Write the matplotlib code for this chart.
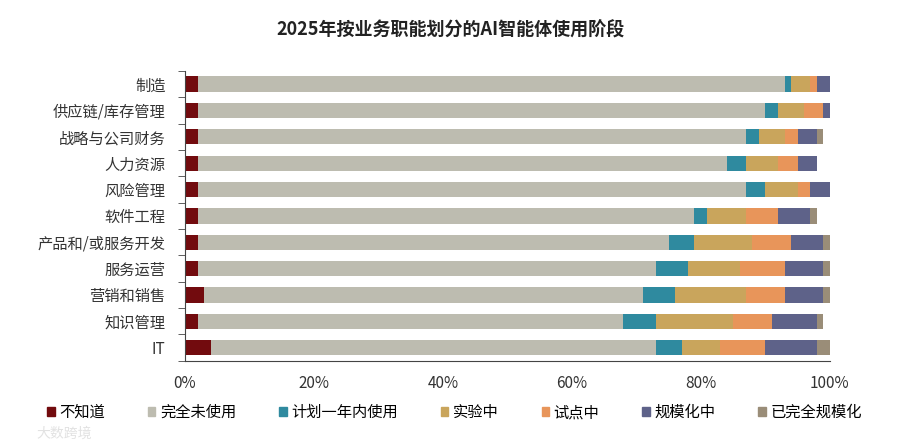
import matplotlib
matplotlib.use('Agg')
import matplotlib.pyplot as plt
import numpy as np
from matplotlib.patches import Rectangle

plt.rcParams['font.family'] = ['Noto Sans CJK SC', 'DejaVu Sans']

# categories from top to bottom
functions = ['制造', '供应链/库存管理', '战略与公司财务', '人力资源', '风险管理', '软件工程',
             '产品和/或服务开发', '服务运营', '营销和销售', '知识管理', 'IT']

stages = ['不知道', '完全未使用', '计划一年内使用', '实验中', '试点中', '规模化中', '已完全规模化']

# percent values per stage, same order as functions
dont_know  = [2, 2, 2, 2, 2, 2, 2, 2, 3, 2, 4]
not_used   = [91, 88, 85, 82, 85, 77, 73, 71, 68, 66, 69]
plan_1y    = [1, 2, 2, 3, 3, 2, 4, 5, 5, 5, 4]
experiment = [3, 4, 4, 5, 5, 6, 9, 8, 11, 12, 6]
pilot      = [1, 3, 2, 3, 2, 5, 6, 7, 6, 6, 7]
scaling    = [2, 1, 3, 3, 3, 5, 5, 6, 6, 7, 8]
full_scale = [0, 0, 1, 0, 0, 1, 1, 1, 1, 1, 2]

colors = ['#720b0e', '#bdbcb0', '#2f8a9f', '#c9a55c', '#e8955a', '#5e6289', '#9a8d78']

series = [dont_know, not_used, plan_1y, experiment, pilot, scaling, full_scale]

fig = plt.figure(figsize=(9, 4.46), dpi=100)
ax = fig.add_axes([0.2056, 0.191, 0.7164, 0.65])

y = np.arange(len(functions))
left = np.zeros(len(functions))
for vals, col in zip(series, colors):
    ax.barh(y, vals, left=left, height=0.58, color=col, edgecolor='none')
    left += np.array(vals)

ax.set_ylim(len(functions) - 0.5, -0.5)
ax.set_xlim(0, 100)
ax.set_yticks(y)
ax.set_yticklabels(functions, fontsize=11, color='#333333')
ax.set_yticks(np.arange(-0.5, len(functions)), minor=True)
ax.tick_params(axis='y', which='major', length=0, pad=14)
ax.tick_params(axis='y', which='minor', length=5, color='#444444')
ax.set_xticks([0, 20, 40, 60, 80, 100])
ax.set_xticklabels(['0%', '20%', '40%', '60%', '80%', '100%'], fontsize=11, color='#333333')
ax.tick_params(axis='x', length=0, pad=10)

for s in ['top', 'right']:
    ax.spines[s].set_visible(False)
ax.spines['left'].set_color('#444444')
ax.spines['bottom'].set_color('#444444')

fig.suptitle('2025年按业务职能划分的AI智能体使用阶段', y=0.955, fontsize=13,
             fontweight='bold', color='#222222')

handles = [Rectangle((0, 0), 1, 1, color=c) for c in colors]
fig.legend(handles, stages, loc='center', bbox_to_anchor=(0.505, 0.075), ncol=7,
           frameon=False, fontsize=11, handlelength=0.5, handleheight=0.5,
           handletextpad=0.3, columnspacing=2.8)

fig.text(0.04, 0.012, '大数跨境', fontsize=10, color='#e2e2e2', va='bottom')

fig.savefig('out.png', dpi=100)
